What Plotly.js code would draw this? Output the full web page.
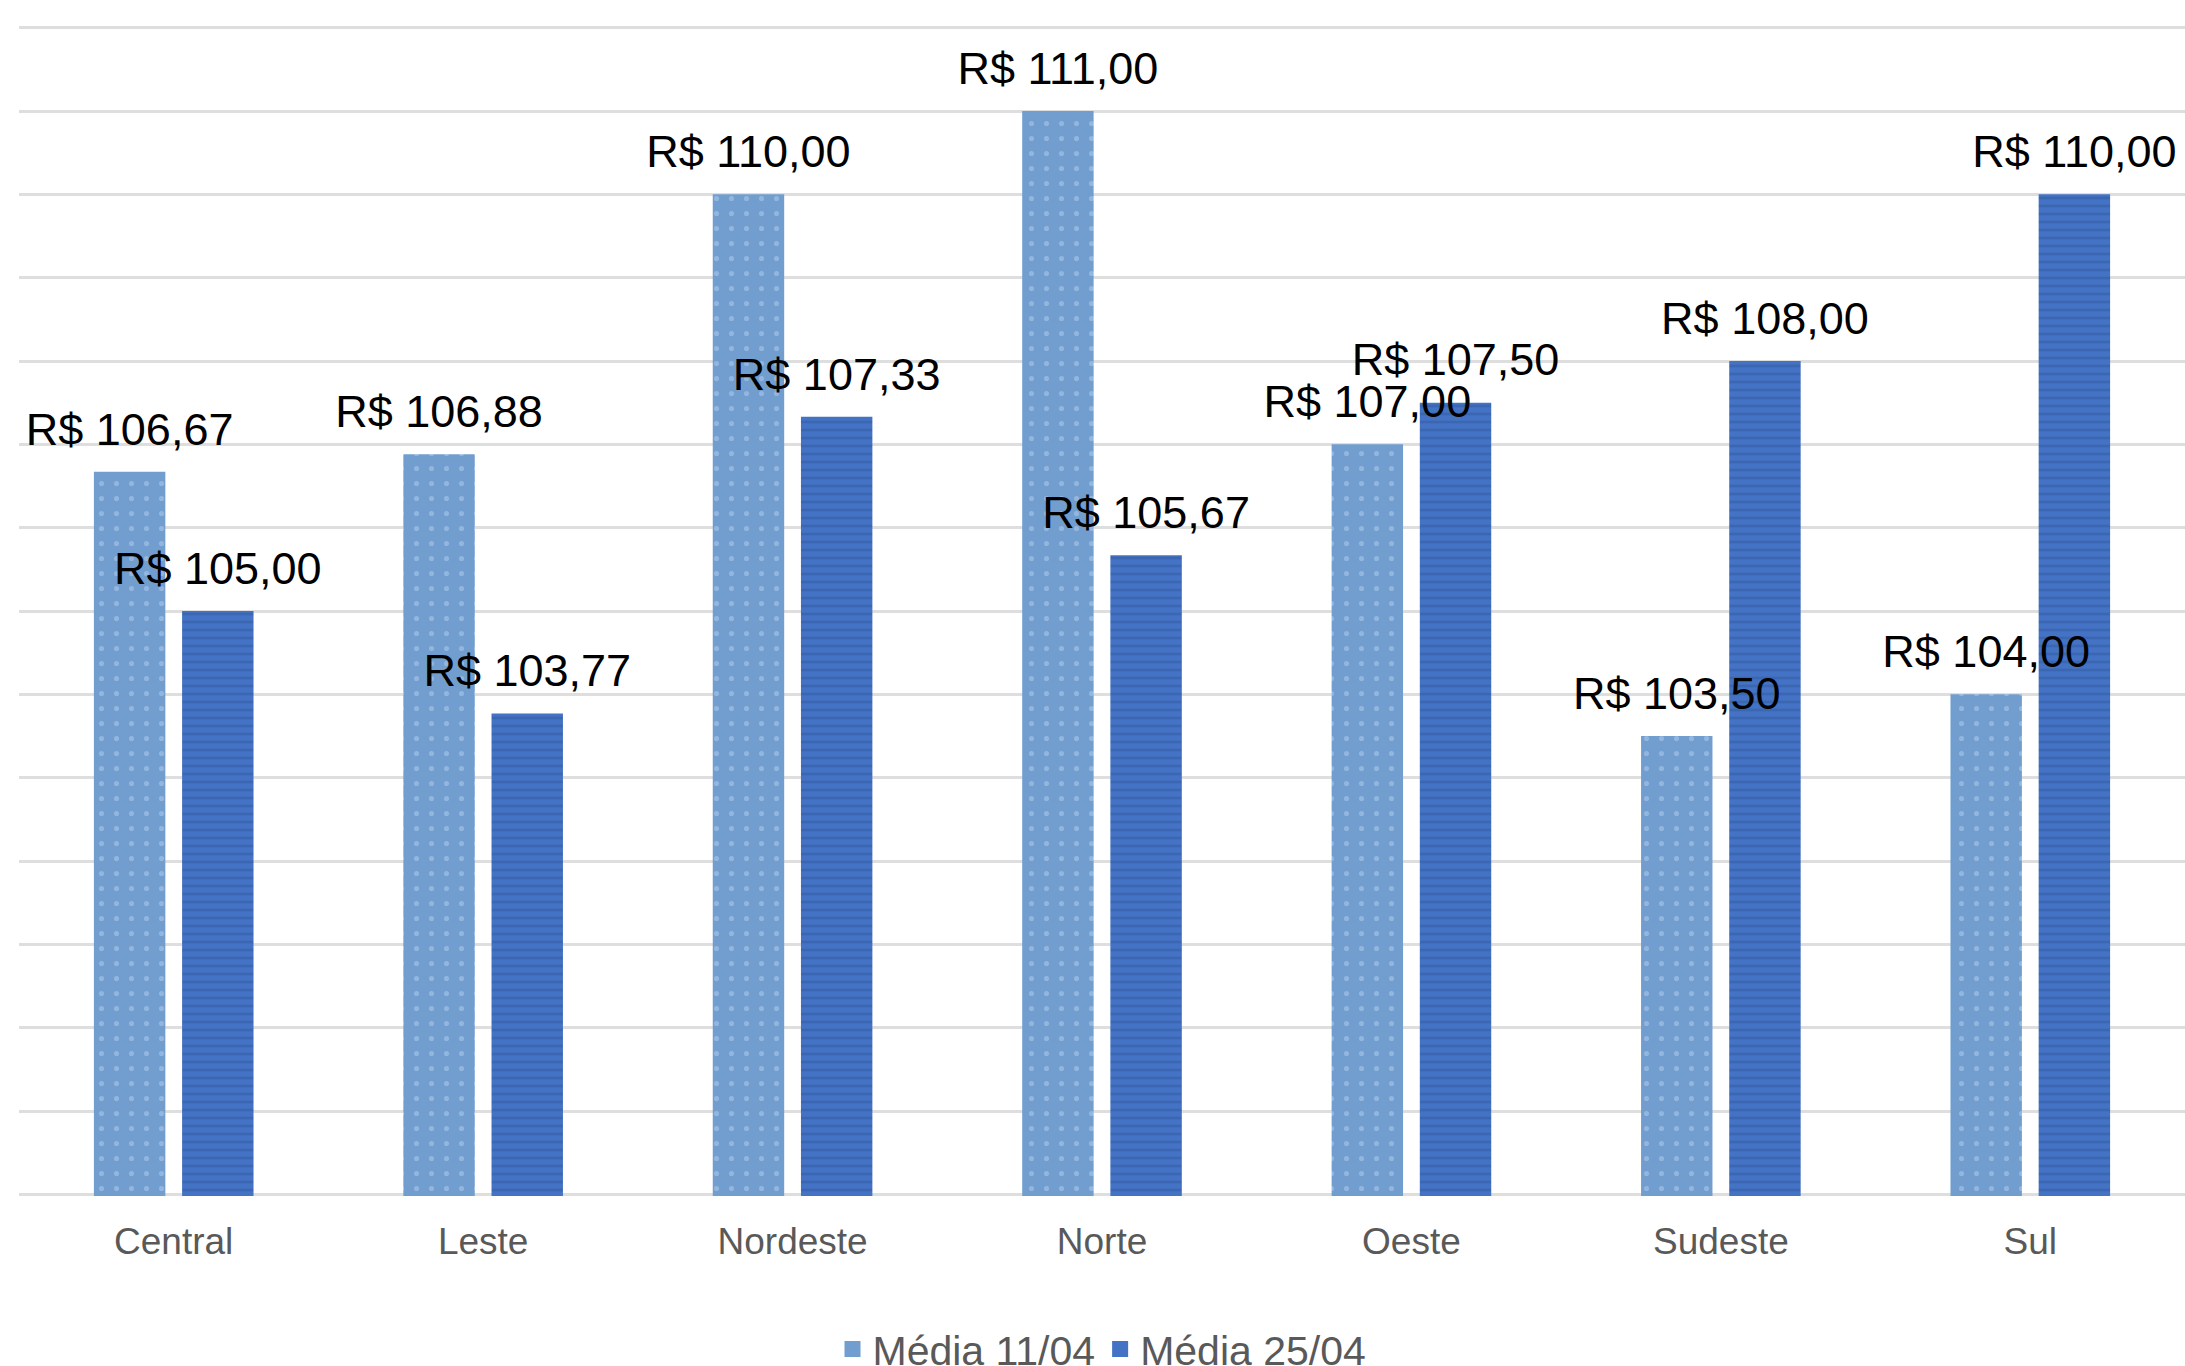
<!DOCTYPE html>
<html><head><meta charset="utf-8">
<script src="https://cdn.plot.ly/plotly-3.0.1.min.js"></script>
<style>html,body{margin:0;padding:0;background:#fff;overflow:hidden;}</style>
</head><body><div id="chart" style="width:2185px;height:1366px;"></div>
<script>
const categories = ['Central', 'Leste', 'Nordeste', 'Norte', 'Oeste', 'Sudeste', 'Sul'];
const seriesNames = ['Média 11/04', 'Média 25/04'];
const media1104 = [106.67, 106.88, 110.00, 111.00, 107.00, 103.50, 104.00];
const media2504 = [105.00, 103.77, 107.33, 105.67, 107.50, 108.00, 110.00];
const yRange = [98, 112];

const fmt = v => 'R$ ' + v.toFixed(2).replace('.', ',');

const lightBlue = '#729ECF';
const darkBlue = '#4472C4';
const FONT = 'Liberation Sans, Arial, sans-serif';

const bar1 = {
  type: 'bar', x: categories, y: media1104, name: seriesNames[0], offsetgroup: 'a',
  hoverinfo: 'skip', textposition: 'none', showlegend: false,
  marker: { color: lightBlue, line: { width: 0 },
    pattern: { shape: '.', fgcolor: '#93B6DE', bgcolor: lightBlue, size: 15, solidity: 0.09, fillmode: 'replace' } }
};
const bar2 = {
  type: 'bar', x: categories, y: media2504, name: seriesNames[1], offsetgroup: 'b',
  hoverinfo: 'skip', textposition: 'none', showlegend: false,
  marker: { color: darkBlue, line: { width: 0 },
    pattern: { shape: '-', fgcolor: '#3B67B2', bgcolor: darkBlue, size: 8, solidity: 0.35, fillmode: 'replace' } }
};

const labelCommon = {
  type: 'scatter', mode: 'markers+text', x: categories, showlegend: false,
  hoverinfo: 'skip', cliponaxis: false, textposition: 'top center',
  marker: { size: 24, color: 'rgba(0,0,0,0)' },
  textfont: { family: FONT, size: 45, color: '#000000' }
};
const lab1 = Object.assign({}, labelCommon, { y: media1104, text: media1104.map(fmt), offsetgroup: 'a' });
const lab2 = Object.assign({}, labelCommon, { y: media2504, text: media2504.map(fmt), offsetgroup: 'b' });

// legend-only entries (larger square symbols)
const leg1 = { type: 'scatter', mode: 'markers', x: [null], y: [null], name: seriesNames[0], offsetgroup: 'a',
  hoverinfo: 'skip', showlegend: true, marker: { symbol: 'square', size: 24, color: lightBlue } };
const leg2 = { type: 'scatter', mode: 'markers', x: [null], y: [null], name: seriesNames[1], offsetgroup: 'b',
  hoverinfo: 'skip', showlegend: true, marker: { symbol: 'square', size: 24, color: darkBlue } };

const layout = {
  width: 2185, height: 1366,
  paper_bgcolor: '#ffffff', plot_bgcolor: '#ffffff',
  margin: { l: 19, r: 0, t: 26, b: 170, autoexpand: false },
  barmode: 'group', bargap: 0.43, bargroupgap: 0.19,
  scattermode: 'group', scattergap: 0.43,
  showlegend: true,
  xaxis: {
    type: 'category', showgrid: false, zeroline: false, showline: false,
    ticks: '', ticklabelstandoff: 20,
    tickfont: { family: FONT, size: 37, color: '#595959' }
  },
  yaxis: {
    range: [yRange[0] - 0.02, yRange[1] + 0.02], dtick: 1, tick0: 0,
    showticklabels: false, ticks: '', zeroline: false, showline: false,
    showgrid: true, gridcolor: '#DEDEDE', gridwidth: 3
  },
  legend: {
    orientation: 'h', x: 0.5, xanchor: 'center', y: -0.131, yanchor: 'middle',
    font: { family: FONT, size: 41, color: '#595959' },
    traceorder: 'normal', itemsizing: 'trace', itemclick: false, itemdoubleclick: false
  }
};

Plotly.newPlot('chart', [bar1, bar2, lab1, lab2, leg1, leg2], layout, { displayModeBar: false, staticPlot: true });
</script>
</body></html>
